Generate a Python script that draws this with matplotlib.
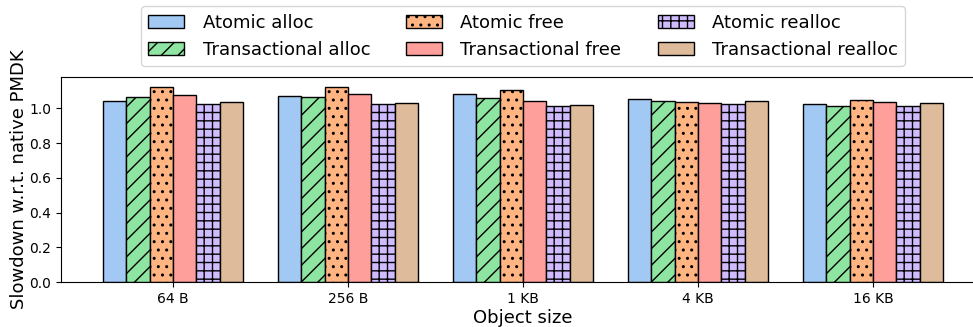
import numpy as np
import matplotlib.pyplot as plt

sizes = ['64 B', '256 B', '1 KB', '4 KB', '16 KB']

# slowdown relative to native PMDK, one list per operation
atomic_alloc = [1.043, 1.072, 1.083, 1.056, 1.025]
tx_alloc = [1.066, 1.066, 1.060, 1.041, 1.014]
atomic_free = [1.124, 1.124, 1.108, 1.035, 1.046]
tx_free = [1.077, 1.081, 1.041, 1.031, 1.035]
atomic_realloc = [1.027, 1.025, 1.012, 1.023, 1.012]
tx_realloc = [1.039, 1.029, 1.021, 1.041, 1.029]

series = [
    ('Atomic alloc', atomic_alloc, '#a1c9f4', ''),
    ('Transactional alloc', tx_alloc, '#8de5a1', '//'),
    ('Atomic free', atomic_free, '#ffb482', '..'),
    ('Transactional free', tx_free, '#ff9f9b', ''),
    ('Atomic realloc', atomic_realloc, '#d0bbff', '++'),
    ('Transactional realloc', tx_realloc, '#debb9b', ''),
]

fig = plt.figure(figsize=(9.73, 3.27), dpi=100)
ax = fig.add_axes([0.0627, 0.1376, 0.9496, 0.627])

x = np.arange(len(sizes))
n = len(series)
w = 0.8 / n
handles = []
for i, (name, vals, color, hatch) in enumerate(series):
    pos = x - 0.4 + w * (i + 0.5)
    b = ax.bar(pos, vals, width=w, color=color, edgecolor='black',
               linewidth=1, hatch=hatch, label=name)
    handles.append(b)

ax.set_xticks(x)
ax.set_xticklabels(sizes, fontsize=10)
ax.tick_params(axis='y', labelsize=10)
ax.set_yticks([0.0, 0.2, 0.4, 0.6, 0.8, 1.0])
ax.set_xlabel('Object size', fontsize=13, labelpad=2)
ax.set_ylabel('Slowdown w.r.t. native PMDK', fontsize=13, labelpad=1)

# legend laid out column-wise: atomic on top row, transactional below
ax.legend(handles, [s[0] for s in series],
          loc='lower center', bbox_to_anchor=(0.5, 1.01), ncol=3,
          fontsize=13, handlelength=2.0, handletextpad=1.0,
          columnspacing=2.0)

fig.savefig('out.png', dpi=100)
